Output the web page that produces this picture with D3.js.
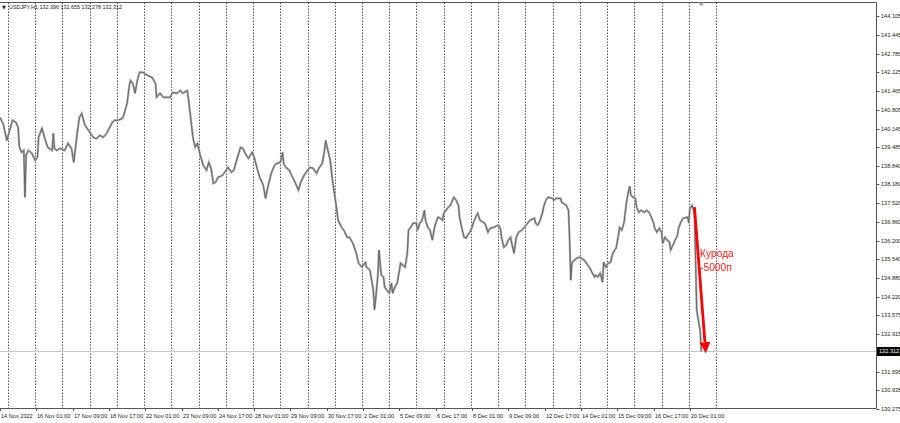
<!DOCTYPE html>
<html><head><meta charset="utf-8">
<script src="https://cdn.jsdelivr.net/npm/d3@7"></script>
<style>html,body{margin:0;padding:0;background:#fff;overflow:hidden}</style>
</head><body><svg id="c" width="900" height="423"></svg>
<script>
// ---- data (hourly bar index from 14 Nov 2022 17:00, skipping weekends) ----
const symbolTitle = "USDJPY,H1";
const ohlcValues = ["132.396","132.655","132.278","132.312"];
const bars = [0,3,4,6,9,11,14,16,17,19,21,22,23,25,28,31,33,34,37,40,42,46,47,48,50,53,57,60,63,65,68,70,72,75,78,82,85,88,91,94,99,101,104,108,109,112,114,115,117,119,121,123,126,130,134,137,138,141,144,150,152,156,159,161,165,166,168,170,
172,174,176,179,182,184,186,188,190,192,196,198,201,204,206,209,212,214,217,219,222,224,227,229,232,234,236,239,242,244,247,249,250,252,255,257,260,263,265,268,271,273,276,279,281,284,286,287,289,291,293,294,296,298,301,303,306,308,311,314,316,319,322,323,326,329,330,331,333,334,336,338,339,341,343,345,346,348,350,352,353,355,357,359,360,362,364,367,368,370,372,374,375,377,379,381,383,384,386,388,390,391,393,395,397,398,400,402,404,405,407,409,411,412,414,416,418,420,421,423,427,428,430,432,435,439,441,442,444,446,448,450,451,453,455,457,460,462,465,467,471,472,474,476,478,479,481,483,487,488,490,494,495,499,501,502,503,504,506,508,511,515,518,520,522,524,525,527,529,531,532,534,536,538,540,543,545,546,548,550,552,554,555,556,558,560,561,563,565,568,570,572,574,576,577,579,581,583,584,586,588,590,591,593,595,597,598,600,602,606,607,608,610,612,613,614,615,617,618];
const prices = [140.54,140.30,140.09,139.73,140.16,140.44,140.37,140.19,139.52,139.31,139.38,137.73,139.21,139.38,139.28,139.03,139.14,139.84,140.16,139.73,139.49,139.38,139.98,139.45,139.38,139.45,139.38,139.63,139.45,138.96,139.98,140.54,140.68,140.25,140.09,139.84,139.80,139.91,139.84,139.98,140.37,140.44,140.44,140.51,140.61,141.04,141.67,141.84,141.74,141.39,141.84,142.13,142.13,142.02,141.95,141.74,141.25,141.39,141.25,141.25,141.42,141.39,141.49,141.39,141.49,141.21,140.54,139.84,
139.49,139.63,139.28,138.86,138.68,138.96,138.75,138.22,138.26,138.43,138.50,138.61,138.78,138.61,138.68,139.10,139.49,139.45,139.21,139.10,139.31,139.14,138.68,138.43,138.15,137.69,138.08,138.57,138.86,138.92,138.96,139.31,138.92,138.78,138.68,138.50,138.26,137.98,138.26,138.50,138.68,138.78,138.75,138.57,138.75,138.92,139.38,139.73,139.38,139.03,138.33,138.05,137.52,136.92,136.67,136.57,136.32,136.32,136.11,135.76,135.41,135.27,135.44,135.27,135.16,134.46,133.76,134.11,134.99,135.87,134.99,134.92,134.57,134.46,134.35,134.71,134.35,134.57,134.71,135.16,135.41,135.34,135.27,135.76,136.57,136.67,136.82,136.82,136.57,136.82,136.92,137.27,136.92,136.67,136.57,136.22,136.67,136.82,137.03,136.99,136.92,137.17,137.27,137.38,137.45,137.55,137.73,137.62,137.45,137.03,136.64,136.32,136.29,136.39,136.50,136.67,136.92,137.10,137.17,136.92,136.82,136.75,136.50,136.64,136.67,136.75,136.64,136.32,135.97,136.04,136.22,136.32,136.11,135.76,136.32,136.50,136.57,136.67,136.82,136.92,136.99,136.82,136.75,136.92,137.17,137.38,137.62,137.73,137.69,137.62,137.69,137.69,137.55,137.45,137.27,136.22,134.81,135.41,135.51,135.58,135.62,135.51,135.34,135.23,135.06,134.92,134.99,134.92,135.06,134.74,135.44,135.27,135.41,135.44,135.76,135.94,136.39,136.67,136.57,136.85,137.52,137.98,138.12,137.80,137.73,137.69,137.38,137.20,137.27,137.20,137.27,137.20,137.03,136.82,136.64,136.50,136.64,136.50,136.11,136.32,136.22,136.15,135.87,136.04,136.22,136.39,136.64,136.85,136.99,137.03,136.82,137.34,137.45,137.17,135.51,133.76,133.51,133.05,132.31];
const yTickValues = [144.105,143.445,142.785,142.125,141.465,140.805,140.145,139.485,138.840,138.180,137.520,136.860,136.200,135.540,134.880,134.220,133.575,132.915,131.595,130.935,130.275];
const xLabels = ["14 Nov 2022","16 Nov 01:00","17 Nov 09:00","18 Nov 17:00","22 Nov 01:00","23 Nov 09:00","24 Nov 17:00","28 Nov 01:00","29 Nov 09:00","30 Nov 17:00","2 Dec 01:00","5 Dec 09:00","6 Dec 17:00","8 Dec 01:00","9 Dec 09:00","12 Dec 17:00","14 Dec 01:00","15 Dec 09:00","16 Dec 17:00","20 Dec 01:00"];
const xLabelBars = [0,32,64,96,128,160,192,224,256,288,320,352,384,416,448,480,512,544,576,608];
const daySeparatorBars = [7,31,55,79,103,127,151,175,199,223,247,271,295,319,343,367,391,415,439,463,487,511,535,559,583,607,631];
const lastPrice = 132.312;
const arrowBars = [612,622];
const arrowPrices = [137.38,132.24];
const noteLines = ["Курода","-5000п"];
const noteBar = 617, notePrice = 135.62;

// ---- drawing ----
const svg = d3.select("#c");
const W = 900, H = 423;
const plot = {left:0, right:876, top:2.5, bottom:408};
const x = d3.scaleLinear().domain([0,772]).range([plot.left, plot.right]);
const y = d3.scaleLinear().domain([130.311,144.587]).range([plot.bottom, plot.top]);
const font = "'Liberation Sans', Arial, sans-serif";

svg.append("rect").attr("width",W).attr("height",H).attr("fill","#fff");

svg.append("defs").append("clipPath").attr("id","clip")
  .append("rect").attr("x",plot.left).attr("y",plot.top).attr("width",plot.right-plot.left).attr("height",plot.bottom-plot.top);

// day separators
svg.append("g").selectAll("line").data(daySeparatorBars).join("line")
  .attr("x1",d=>Math.round(x(d))+0.5).attr("x2",d=>Math.round(x(d))+0.5)
  .attr("y1",plot.top).attr("y2",plot.bottom)
  .attr("stroke","#555").attr("stroke-width",1).attr("stroke-dasharray","1.5,1.5");

// current price line
const ly = Math.round(y(lastPrice))+0.5;
svg.append("line").attr("x1",plot.left).attr("x2",plot.right).attr("y1",ly).attr("y2",ly)
  .attr("stroke","#c8c8c8").attr("stroke-width",1);

// price line
const pts = bars.map((b,i)=>[b,prices[i]]);
const line = d3.line().x(d=>x(d[0])).y(d=>y(d[1]));
const g = svg.append("g").attr("clip-path","url(#clip)");
g.append("path").datum(pts).attr("d",line).attr("fill","none")
  .attr("stroke","#acacac").attr("stroke-width",2.2).attr("stroke-linejoin","miter");
g.append("path").datum(pts).attr("d",line).attr("fill","none")
  .attr("stroke","#606060").attr("stroke-width",0.9).attr("stroke-linejoin","miter");

// frame
svg.append("path").attr("d",`M${plot.left},${plot.top}H${plot.right+0.5}V${plot.bottom+0.5}H${plot.left}`)
  .attr("fill","none").attr("stroke","#555").attr("stroke-width",1);

// right axis
const yAxis = svg.append("g");
yTickValues.forEach(v=>{
  const yy = Math.round(y(v))+0.5;
  yAxis.append("line").attr("x1",plot.right+0.5).attr("x2",plot.right+3.5).attr("y1",yy).attr("y2",yy).attr("stroke","#555");
  yAxis.append("text").attr("x",881).attr("y",yy).attr("dy","0.35em")
    .attr("font-family",font).attr("font-size",5.6).attr("fill","#222").text(d3.format(".3f")(v));
});
// last price label
svg.append("rect").attr("x",877).attr("y",ly-4.5).attr("width",23).attr("height",9).attr("fill","#000");
svg.append("text").attr("x",879).attr("y",ly).attr("dy","0.35em").attr("font-family",font)
  .attr("font-size",5.6).attr("fill","#fff").text(d3.format(".3f")(lastPrice));

// bottom axis
const xAxis = svg.append("g");
xLabels.forEach((t,i)=>{
  const xx = Math.round(x(xLabelBars[i]))+0.5;
  xAxis.append("line").attr("x1",xx).attr("x2",xx).attr("y1",plot.bottom).attr("y2",plot.bottom+3).attr("stroke","#555");
  xAxis.append("text").attr("x",xx+0.5).attr("y",418).attr("font-family",font)
    .attr("font-size",5.6).attr("fill","#222").text(t);
});

// title
svg.append("text").attr("x",2).attr("y",9).attr("font-family","'DejaVu Sans', sans-serif")
  .attr("font-size",5).attr("fill","#222").text("▼");
svg.append("text").attr("x",9).attr("y",9).attr("font-family",font).attr("font-size",5.4)
  .attr("fill","#222").text(symbolTitle+"  "+ohlcValues.join(" "));

// small chart shift marker
svg.append("path").attr("d",`M${x(618)-3},${plot.top}L${x(618)+3},${plot.top}L${x(618)},${plot.top+4}Z`).attr("fill","#aaa");

// annotation arrow
const x0 = x(arrowBars[0]), y0 = y(arrowPrices[0]), x1 = x(arrowBars[1]), y1 = y(arrowPrices[1]);
const len = Math.hypot(x1-x0,y1-y0), ux=(x1-x0)/len, uy=(y1-y0)/len;
const headL = 11, headW = 5.5;
const bx = x1-ux*headL, by = y1-uy*headL;
svg.append("line").attr("x1",x0).attr("y1",y0).attr("x2",bx).attr("y2",by)
  .attr("stroke","#ff0000").attr("stroke-width",2.8);
svg.append("path").attr("d",`M${x1},${y1}L${bx-uy*headW},${by+ux*headW}L${bx+uy*headW},${by-ux*headW}Z`)
  .attr("fill","#ff0000");
noteLines.forEach((t,i)=>{
  svg.append("text").attr("x",x(noteBar)).attr("y",y(notePrice)+i*13.5)
    .attr("font-family",font).attr("font-size",10.2).attr("fill","#ff1a1a").text(t);
});
</script>
</body></html>
